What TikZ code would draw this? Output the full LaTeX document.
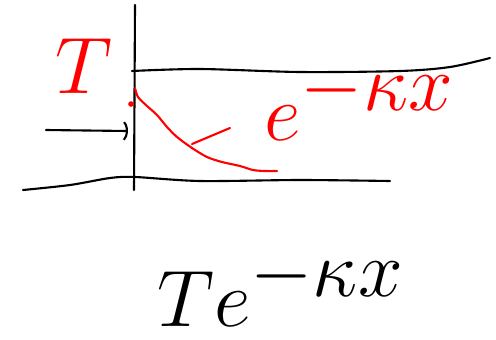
\documentclass[tikz,border=0pt]{standalone}
\usetikzlibrary{arrows.meta}
\begin{document}
\begin{tikzpicture}[x=0.02cm, y=-0.02cm, line width=1.2pt, line cap=round, line join=round,
    bigtext/.style={font=\huge, scale=2.2, inner sep=0pt}]
    \useasboundingbox (0,0) rectangle (496,339);

    % Achse
    \coordinate (top) at (135,5);
    \coordinate (bottom) at (134,190);
    \draw (top) -- (bottom);

    % Barriere
    \draw plot[smooth] coordinates {(132,71) (200,69) (300,72) (400,71) (450,67) (490,58)};
    \draw plot[smooth] coordinates {(23,190) (70,185) (110,178) (135,177) (200,181) (300,180) (390,181)};

    % einlaufende Welle
    \coordinate (in) at (46,130);
    \coordinate (wall) at (128,131);
    \draw[-{Parenthesis[length=0.14cm, width=0.45cm]}] (in) -- (wall);

    % Abfall
    \draw[red] plot[smooth] coordinates {(135,88) (138,97) (147,106) (157,115) (167,127) (177,137) (192,148) (207,157) (222,162) (240,166) (253,170) (265,171) (277,171)};
    \fill[red] (131,104) circle (1.6pt);

    % Beschriftung
    \node[red, bigtext] (amp) at (84,66) {$T$};
    \node[red, bigtext, anchor=base west] (decay) at (262,140) {$e^{\textstyle-\kappa x}$};
    \coordinate (lead) at (192,144);
    \draw[red] (lead) -- (230,128);
    \node[bigtext, anchor=base west] (trans) at (155,326) {$Te^{\textstyle-\kappa x}$};
\end{tikzpicture}
\end{document}
